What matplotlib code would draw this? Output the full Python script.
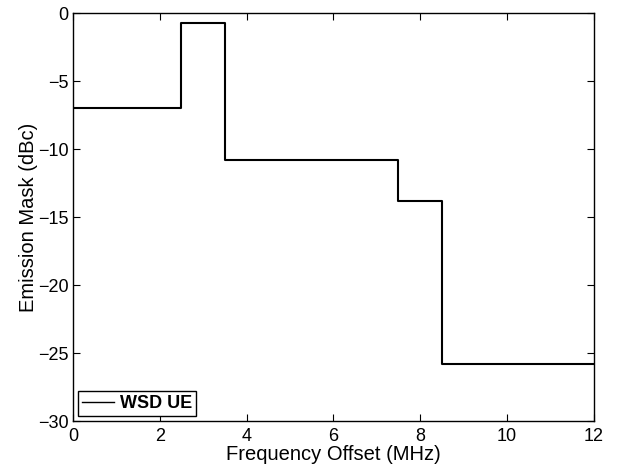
import matplotlib
matplotlib.use('Agg')
import matplotlib.pyplot as plt

# step edges (MHz) and mask level (dBc) for each segment
freq_edges = [0, 2.5, 3.5, 7.5, 8.5, 12]
mask_levels = [-7, -0.7, -10.8, -13.8, -25.8]

plt.rcParams['font.family'] = ['Liberation Sans', 'DejaVu Sans']
plt.rcParams['font.size'] = 13

x = []
y = []
for i, lvl in enumerate(mask_levels):
    x += [freq_edges[i], freq_edges[i + 1]]
    y += [lvl, lvl]

fig = plt.figure(figsize=(6.29, 4.65), dpi=100)
ax = fig.add_axes([0.116, 0.0946, 0.828, 0.877])
ax.plot(x, y, color='black', linewidth=1.5, label='WSD UE')

ax.set_xlim(0, 12)
ax.set_ylim(-30, 0)
ax.set_xticks([0, 2, 4, 6, 8, 10, 12])
ax.set_yticks([-30, -25, -20, -15, -10, -5, 0])
ax.set_yticklabels(['\u221230', '\u221225', '\u221220', '\u221215', '\u221210', '\u22125', '0'])
ax.tick_params(direction='in', top=True, right=True, length=5, width=0.8)
ax.tick_params(axis='x', pad=5)
ax.tick_params(axis='y', pad=3)
for s in ax.spines.values():
    s.set_linewidth(1.0)

ax.set_xlabel('Frequency Offset (MHz)', fontsize=14.5, labelpad=0)
ax.set_ylabel('Emission Mask (dBc)', fontsize=14.5, labelpad=0)

leg = ax.legend(loc='lower left', prop={'weight': 'bold', 'size': 13}, fancybox=False,
                edgecolor='black', framealpha=1, borderaxespad=0.28,
                handlelength=1.8, handletextpad=0.3, borderpad=0.22)
leg.get_frame().set_linewidth(1.0)
for h in leg.get_lines():
    h.set_linewidth(1.0)

plt.savefig('out.png', dpi=100)
